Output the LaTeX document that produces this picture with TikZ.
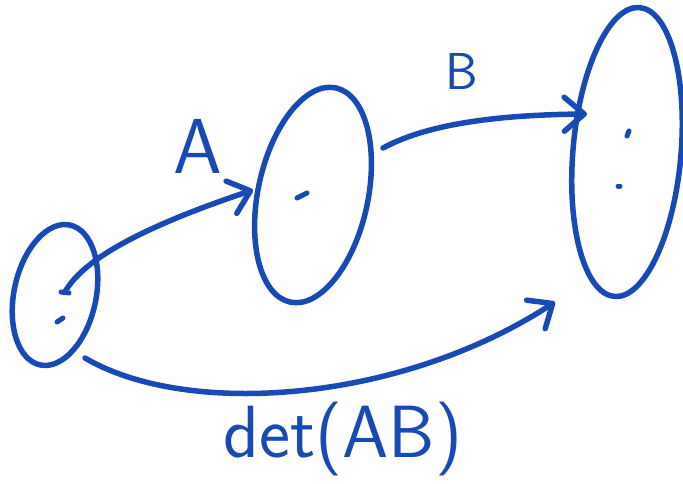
\documentclass[tikz,border=0pt]{standalone}
\usetikzlibrary{shapes.geometric,arrows.meta}
\definecolor{ink}{RGB}{24,74,181}
\begin{document}
\begin{tikzpicture}[x=1pt,y=1pt,
  blob/.style={draw=ink, line width=5.5pt, ellipse, inner sep=0pt},
  dotmark/.style={draw=ink, line width=5pt, line cap=round},
  conn/.style={draw=ink, line width=5.5pt, line cap=round,
    -{Straight Barb[length=20pt,width=34pt,round]}},
  lab/.style={text=ink, font=\sffamily\fontsize{60}{60}\selectfont, inner sep=0pt}]
\useasboundingbox (0,0) rectangle (683,483);
% sets
\node[blob, minimum width=82pt, minimum height=143pt, rotate=-12] (L) at (55,188) {};
\node[blob, minimum width=110pt, minimum height=219pt, rotate=-12] (M) at (313,288) {};
\node[blob, minimum width=108pt, minimum height=290pt, rotate=-5] (R) at (627,331) {};
% points
\coordinate (l1) at (65,191);
\coordinate (l2) at (60,163);
\coordinate (m1) at (302,288);
\coordinate (r1) at (628,350);
\coordinate (r2) at (618,297);
\draw[dotmark] (l1) ++(-4,0) -- ++(8,-1);
\draw[dotmark] (l2) ++(-3,-2) -- ++(6,4);
\draw[dotmark] (m1) ++(-5,-3) -- ++(10,5);
\draw[dotmark] (r1) ++(-1,-3) -- ++(2,5);
\draw[dotmark] (r2) -- ++(2,0);
% arrow end points
\coordinate (bs) at (383,335);
\coordinate (ds) at (85,125);
\coordinate (at) at (253,293);
\coordinate (bt) at (587,369);
\coordinate (dt) at (555,181);
\draw[conn] (l1) .. controls (85,228) and (160,262) .. (at);
\draw[conn] (bs) .. controls (420,355) and (480,368) .. (bt);
\draw[conn] (ds) .. controls (187,65) and (400,80) .. (dt);
% labels
\node[lab, font=\sffamily\fontsize{78}{78}\selectfont] (la) at (198,337) {A};
\node[lab, font=\sffamily\fontsize{52}{52}\selectfont] (lb) at (462,412) {B};
\node[lab, font=\sffamily\fontsize{74}{74}\selectfont] (ld) at (343,44) {det(AB)};
\end{tikzpicture}
\end{document}
